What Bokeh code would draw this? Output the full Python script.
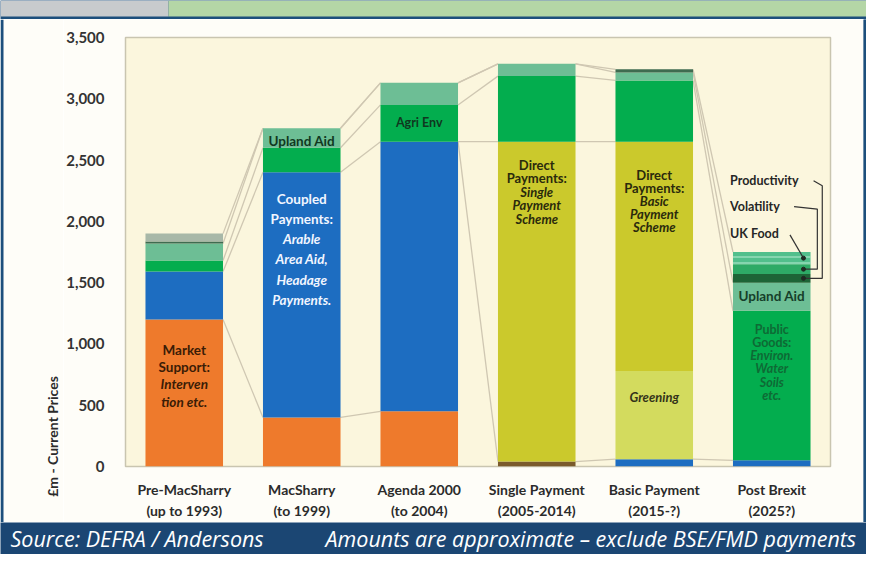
import math
from bokeh.plotting import figure
from bokeh.layouts import column, row
from bokeh.models import ColumnDataSource, FixedTicker, NumeralTickFormatter, Range1d
from bokeh.core.properties import value
from bokeh.embed import file_html
from bokeh.resources import INLINE

# ---------------- data ----------------
categories = ["Pre-MacSharry", "MacSharry", "Agenda 2000", "Single Payment", "Basic Payment", "Post Brexit"]
periods = ["(up to 1993)", "(to 1999)", "(to 2004)", "(2005-2014)", "(2015-?)", "(2025?)"]
y_ticks = [0, 500, 1000, 1500, 2000, 2500, 3000, 3500]

market_support = [1200, 400, 450, 0, 0, 0]
legacy_base = [0, 0, 0, 40, 0, 0]
coupled = [390, 2000, 2200, 0, 60, 50]
greening = [0, 0, 0, 0, 720, 0]
direct = [0, 0, 0, 2610, 1870, 0]
agri_env = [90, 200, 300, 535, 500, 1220]
upland_aid = [140, 160, 180, 100, 65, 230]
other_dark = [15, 0, 0, 0, 25, 0]
other_grey = [65, 0, 0, 0, 0, 0]
productivity = [0, 0, 0, 0, 0, 70]
volatility = [0, 0, 0, 0, 0, 80]
uk_food = [0, 0, 0, 0, 0, 100]

stack_order = [
    ("market_support", market_support),
    ("legacy_base", legacy_base),
    ("coupled", coupled),
    ("greening", greening),
    ("direct", direct),
    ("agri_env", agri_env),
    ("upland_aid", upland_aid),
    ("other_dark", other_dark),
    ("other_grey", other_grey),
    ("productivity", productivity),
    ("volatility", volatility),
    ("uk_food", uk_food),
]

colors = {
    "market_support": "#EE7A2C",
    "legacy_base": "#7A5A2C",
    "coupled": "#1D6DC1",
    "greening": "#D3DB5E",
    "direct": "#CBC92C",
    "agri_env": "#03AD4E",
    "upland_aid": "#6DBE95",
    "other_dark": "#3F6B50",
    "other_grey": "#A8B8A8",
    "productivity": "#1D6436",
    "volatility": "#2EAA66",
    "uk_food": "#52BF8C",
}

source_left = "Source: DEFRA / Andersons"
source_right = "Amounts are approximate \u2013 exclude BSE/FMD payments"
y_title = "\u00a3m - Current Prices"

FONT = "Lato"
NAVY = "#1D4F7C"
BAND = "#1B4673"
PAPER = "#FEFDF8"

# ---------------- geometry helpers ----------------
n = len(categories)
xs = [i + 0.5 for i in range(n)]
BAR_W = 0.66

cum = [0] * n
tops, bottoms = {}, {}
for name, vals in stack_order:
    b = cum[:]
    t = [cum[i] + vals[i] for i in range(n)]
    bottoms[name], tops[name] = b, t
    cum = t
totals = cum


def plain_fig(w, h, bg):
    f = figure(width=w, height=h, x_range=Range1d(0, w), y_range=Range1d(h, 0),
               output_backend="svg", toolbar_location=None, min_border=0,
               x_axis_type=None, y_axis_type=None, frame_align=False)
    f.grid.visible = False
    f.outline_line_color = None
    f.background_fill_color = bg
    f.border_fill_color = bg
    return f


TOP_H, ROW_H, BOT_H = 19, 503, 32
TITLE_W, MAIN_W, RB_W = 63, 800, 3
FULL_W = TITLE_W + MAIN_W + RB_W

# ---------------- top band (navy background shows as the frame's top line) ----------------
top = plain_fig(FULL_W, TOP_H, NAVY)
top.quad(left=[0, 168], right=[168, FULL_W], top=[0, 0], bottom=[16, 16],
         fill_color=["#C8CBCD", "#B4D6A6"], line_color=None)

# ---------------- y title strip (with left frame border) ----------------
ytf = plain_fig(TITLE_W, ROW_H, PAPER)
ytf.quad(left=[0], right=[3], top=[0], bottom=[ROW_H], fill_color=NAVY, line_color=None)
ytf.text(x=[52], y=[417], text=[y_title], angle=math.pi / 2, text_font=value(FONT),
         text_font_style="bold", text_font_size="14px", text_color="#2B2B2B",
         text_align="center", text_baseline="middle")

# ---------------- right frame border ----------------
rbf = plain_fig(RB_W, ROW_H, NAVY)
rbf.quad(left=[0], right=[RB_W], top=[0], bottom=[ROW_H], fill_color=NAVY, line_color=None)

# ---------------- bottom band ----------------
bot = plain_fig(FULL_W, BOT_H, BAND)
bot.text(x=[10, 325], y=[16, 16], text=[source_left, source_right], text_font=value("Open Sans"),
         text_font_style="italic", text_font_size="21.5px", text_color="#FFFFFF",
         text_align="left", text_baseline="middle")

# ---------------- main chart ----------------
p = figure(width=MAIN_W, height=ROW_H, x_range=Range1d(0, 6), y_range=Range1d(0, 3500),
           output_backend="svg", toolbar_location=None, frame_align=False,
           min_border_left=58, min_border_right=33, min_border_top=18, min_border_bottom=54)
p.background_fill_color = "#FBF6DD"
p.border_fill_color = PAPER
p.outline_line_color = "#C9C5B0"
p.outline_line_width = 1.5
p.grid.visible = False

p.xaxis.ticker = FixedTicker(ticks=xs)
p.xaxis.major_label_overrides = {xs[i]: f"{categories[i]}\n{periods[i]}" for i in range(n)}
p.xaxis.axis_line_color = None
p.xaxis.major_tick_line_color = None
p.xaxis.minor_tick_line_color = None
p.xaxis.major_label_text_font = FONT
p.xaxis.major_label_text_font_style = "bold"
p.xaxis.major_label_text_font_size = "14px"
p.xaxis.major_label_text_color = "#2B2B2B"
p.xaxis.major_label_text_line_height = 1.27
p.xaxis.major_label_standoff = 8

p.yaxis.ticker = FixedTicker(ticks=y_ticks)
p.yaxis.formatter = NumeralTickFormatter(format="0,0")
p.yaxis.axis_line_color = None
p.yaxis.major_tick_line_color = None
p.yaxis.minor_tick_line_color = None
p.yaxis.major_label_text_font = FONT
p.yaxis.major_label_text_font_style = "bold"
p.yaxis.major_label_text_font_size = "15px"
p.yaxis.major_label_text_color = "#333333"
p.yaxis.major_label_standoff = 15

# connector lines between bars
x0s, y0s, x1s, y1s = [], [], [], []
def add_link(i, y_a, y_b):
    x0s.append(xs[i] + BAR_W / 2); y0s.append(y_a)
    x1s.append(xs[i + 1] - BAR_W / 2); y1s.append(y_b)

for i in range(n - 1):
    for name, vals in stack_order:
        if vals[i] > 0 and vals[i + 1] > 0:
            add_link(i, tops[name][i], tops[name][i + 1])
    add_link(i, totals[i], totals[i + 1])
add_link(2, tops["coupled"][2], tops["direct"][3])
add_link(2, tops["coupled"][2], bottoms["direct"][3])
add_link(3, tops["legacy_base"][3], tops["coupled"][4])
p.segment(x0=x0s, y0=y0s, x1=x1s, y1=y1s, line_color="#CFC7B2", line_width=1.3)

# stacked bars
for name, vals in stack_order:
    idx = [i for i in range(n) if vals[i] > 0]
    src = ColumnDataSource(dict(x=[xs[i] for i in idx],
                                bottom=[bottoms[name][i] for i in idx],
                                top=[tops[name][i] for i in idx]))
    kw = {}
    if name == "uk_food":
        kw = dict(hatch_pattern="-", hatch_color="#A9E4C6", hatch_scale=6, hatch_weight=1.2)
    p.vbar(x="x", bottom="bottom", top="top", width=BAR_W, source=src,
           fill_color=colors[name], line_color=None, **kw)

# in-bar labels
lab_x, lab_y, lab_t, lab_style, lab_col, lab_size = [], [], [], [], [], []
def add_lines(i, y_start, step, lines, color, size):
    for k, (txt, style) in enumerate(lines):
        lab_x.append(xs[i]); lab_y.append(y_start - k * step); lab_t.append(txt)
        lab_style.append(style); lab_col.append(color); lab_size.append(size)

B, BI = "bold", "bold italic"
add_lines(0, 950, 140, [("Market", B), ("Support:", B), ("Interven", BI), ("tion etc.", BI)], "#3A1C06", "13.5px")
add_lines(1, 2655, 0, [("Upland Aid", B)], "#10381F", "13.5px")
add_lines(1, 2184, 165, [("Coupled", B), ("Payments:", B), ("Arable", BI), ("Area Aid,", BI),
                         ("Headage", BI), ("Payments.", BI)], "#F2F6FF", "13.5px")
add_lines(2, 2810, 0, [("Agri Env", B)], "#10381F", "12.5px")
add_lines(3, 2460, 110, [("Direct", B), ("Payments:", B), ("Single", BI), ("Payment", BI),
                         ("Scheme", BI)], "#2A2A0C", "13px")
add_lines(4, 2379, 107, [("Direct", B), ("Payments:", B), ("Basic", BI), ("Payment", BI),
                         ("Scheme", BI)], "#2A2A0C", "13px")
add_lines(4, 568, 0, [("Greening", BI)], "#33331A", "13px")
add_lines(5, 1389, 0, [("Upland Aid", B)], "#163E2A", "13.5px")
add_lines(5, 1121, 108, [("Public", B), ("Goods:", B), ("Environ.", BI), ("Water", BI),
                         ("Soils", BI), ("etc.", BI)], "#0E6A35", "12.5px")

p.text(x=lab_x, y=lab_y, text=lab_t, text_font=value(FONT), text_font_style=lab_style,
       text_color=lab_col, text_font_size=lab_size, text_align="center", text_baseline="middle")

# Post-Brexit call-outs
ann_x = 5.145
p.text(x=[ann_x] * 3, y=[2331, 2120, 1900], text=["Productivity", "Volatility", "UK Food"],
       text_font=value(FONT), text_font_style="bold", text_font_size="12.5px",
       text_color="#262626", text_align="left", text_baseline="middle")

mid = lambda name: (bottoms[name][5] + tops[name][5]) / 2
p.line(x=[5.856, 5.93, 5.93, 5.77], y=[2331, 2290, mid("productivity"), mid("productivity")],
       line_color="#333333", line_width=1.2)
p.line(x=[5.69, 5.888, 5.888, 5.77], y=[2120, 2100, mid("volatility"), mid("volatility")],
       line_color="#333333", line_width=1.2)
p.line(x=[5.655, 5.77], y=[1890, mid("uk_food")], line_color="#333333", line_width=1.2)
p.scatter(x=[5.77] * 3, y=[mid("productivity"), mid("volatility"), mid("uk_food")],
          size=4, color="#1E2A22")

layout = column(top, row(ytf, p, rbf), bot)
open("out.html", "w").write(file_html(layout, INLINE))
